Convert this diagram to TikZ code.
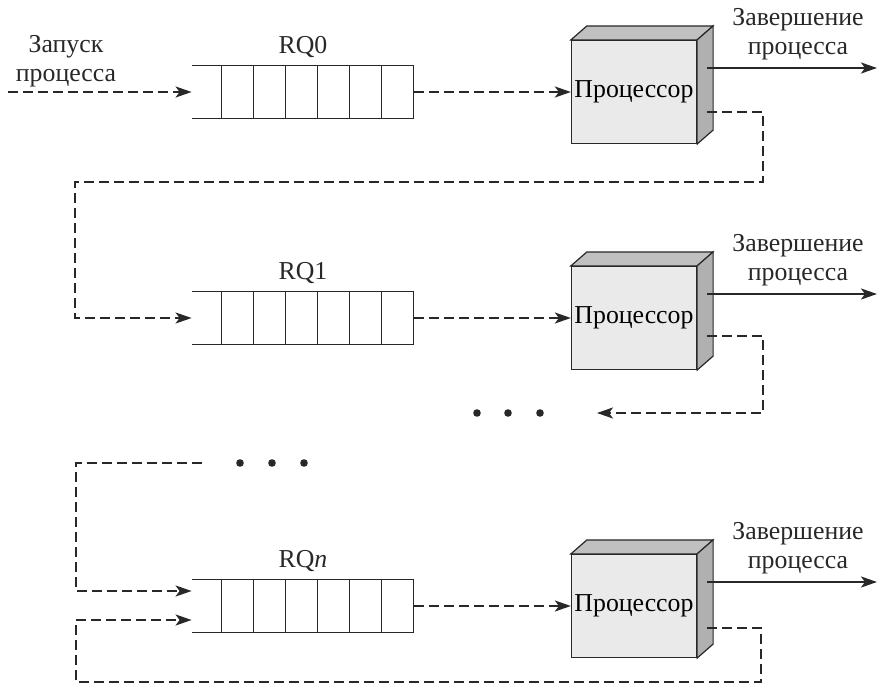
\documentclass[tikz,border=0pt]{standalone}
\usepackage{fontspec}
\setmainfont{Liberation Serif}
\usepackage{tikz}
\usetikzlibrary{arrows.meta, positioning, calc}
\definecolor{facegray}{RGB}{234,234,234}
\definecolor{topgray}{RGB}{192,192,192}
\definecolor{sidegray}{RGB}{176,176,176}
\definecolor{linegray}{RGB}{40,40,40}

\tikzset{
  queuebox/.style={minimum width=111pt, minimum height=26pt, inner sep=0pt},
  cpubox/.style={fill=facegray, draw=linegray, line width=0.6pt,
                 minimum width=62.5pt, minimum height=51.5pt, inner sep=0pt},
  flow/.style={draw=linegray, line width=1pt, dash pattern=on 5pt off 2.5pt},
  done/.style={draw=linegray, line width=1.2pt},
  tip/.style={-{Stealth[length=8pt, width=5.5pt, inset=2pt]}},
  lbl/.style={align=center, inner sep=0pt, text=linegray},
  dot/.style={circle, fill=linegray, minimum size=3.8pt, inner sep=0pt},
}

\begin{document}
\begin{tikzpicture}[x=0.5pt, y=-0.5pt, font=\fontsize{12.9}{14.5}\selectfont]
    \useasboundingbox (0,0) rectangle (879,685);

    % one row per queue: queue, processor, labels
    \foreach \r/\y/\name in {0/92/RQ0, 1/318/RQ1, n/606/RQ\textit{n}} {
        \node[queuebox] (q\r) at (303,\y) {};
        \draw[linegray, line width=0.6pt] (q\r.north west) -- (q\r.north east)
              (q\r.south west) -- (q\r.south east);
        \foreach \i in {0,...,6}
            \draw[linegray, line width=0.6pt] ($(q\r.north west)+(30+32*\i,0)$) -- ($(q\r.south west)+(30+32*\i,0)$);
        \node[lbl] (l\r) at (303,\y-45) {\name};

        \node[cpubox] (p\r) at (634,\y) {Процессор};
        \filldraw[fill=topgray, draw=linegray, line width=0.6pt] (p\r.north west) -- ++(16,-14)
              -- ($(p\r.north east)+(16,-14)$) -- (p\r.north east) -- cycle;
        \filldraw[fill=sidegray, draw=linegray, line width=0.6pt] (p\r.north east) -- ++(16,-14)
              -- ($(p\r.south east)+(16,-14)$) -- (p\r.south east) -- cycle;

        \node[lbl] (e\r) at (798,\y-58) {Завершение\\процесса};
        \coordinate (out\r) at (877,\y-24);
        \draw[done, tip] ($(p\r.east)+(10,-24)$) -- (out\r);
        \draw[flow, tip] (q\r.east) -- (p\r.west);
    }

    % input
    \node[lbl] (startlbl) at (66,61) {Запуск\\процесса};
    \coordinate (start) at (8,92);
    \draw[flow, tip] (start) -- (q0.west);

    % RQ0 -> RQ1
    \coordinate (fb0) at (763,182);
    \coordinate (turn0) at (75,182);
    \draw[flow, tip] ($(p0.east)+(10,20)$) -| (fb0) -- (turn0) |- (q1.west);

    % RQ1 -> ...
    \coordinate (fb1) at (763,413);
    \coordinate (end1) at (597,413);
    \draw[flow, tip] ($(p1.east)+(10,18)$) -| (fb1) -- (end1);
    \foreach \i/\x in {1/477, 2/508, 3/540}
        \node[dot] (da\i) at (\x,413) {};

    % ... -> RQn
    \foreach \i/\x in {1/240, 2/272, 3/304}
        \node[dot] (db\i) at (\x,463) {};
    \coordinate (gap) at (202,463);
    \coordinate (turn2) at (76,463);
    \draw[flow, tip] (gap) -- (turn2) |- ($(qn.west)+(0,-15)$);

    % RQn loops back to itself
    \coordinate (fbn) at (761,682);
    \coordinate (turnn) at (76,682);
    \draw[flow, tip] ($(pn.east)+(10,22)$) -| (fbn) -- (turnn) |- ($(qn.west)+(0,14)$);
\end{tikzpicture}
\end{document}
